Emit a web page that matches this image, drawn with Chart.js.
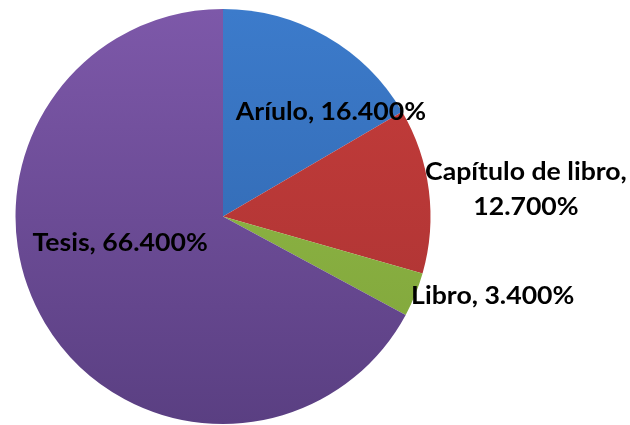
<!DOCTYPE html>
<html>
<head>
<meta charset="utf-8">
<script src="https://cdn.jsdelivr.net/npm/chart.js@4"></script>
<style>
html,body{margin:0;padding:0;background:#fff;}
#wrap{width:630px;height:425px;position:relative;}
</style>
</head>
<body>
<div id="wrap"><canvas id="c" width="630" height="425"></canvas></div>
<script>
const categories = ["Aríulo", "Capítulo de libro", "Libro", "Tesis"];
const values = [16.4, 12.7, 3.4, 66.4];
const labelTexts = [["Aríulo, 16.400%"], ["Capítulo de libro,", "12.700%"], ["Libro, 3.400%"], ["Tesis, 66.400%"]];

const topColors = ["#3c7bcb", "#c63d3b", "#94bd48", "#7d58a9"];
const bottomColors = ["#2e62a8", "#a83232", "#7ea33a", "#5a3f82"];
// label anchors relative to pie centre, in units of radius
const labelAnchors = [[0.52, -0.50], [1.46, -0.128], [1.30, 0.383], [-0.496, 0.128]];

function grad(ctx, i) {
  const chart = ctx.chart;
  const a = chart.chartArea;
  if (!a) return topColors[i];
  const g = chart.ctx.createLinearGradient(0, a.top, 0, a.bottom);
  g.addColorStop(0, topColors[i]);
  g.addColorStop(1, bottomColors[i]);
  return g;
}

const labelPlugin = {
  id: 'pieLabels',
  afterDatasetsDraw(chart) {
    const meta = chart.getDatasetMeta(0);
    const arc = meta.data[0];
    if (!arc) return;
    const cx = arc.x, cy = arc.y, r = arc.outerRadius;
    const ctx = chart.ctx;
    const sx = 1.11;
    ctx.save();
    ctx.font = 'bold 24px Lato';
    ctx.fillStyle = '#000';
    ctx.textAlign = 'center';
    ctx.textBaseline = 'middle';
    const lh = 35;
    labelTexts.forEach((lines, i) => {
      const x = cx + labelAnchors[i][0] * r;
      const y0 = cy + labelAnchors[i][1] * r - (lines.length - 1) * lh / 2;
      lines.forEach((t, j) => {
        ctx.save();
        ctx.translate(x, y0 + j * lh);
        ctx.scale(sx, 1);
        ctx.fillText(t, 0, 0);
        ctx.restore();
      });
    });
    ctx.restore();
  }
};

new Chart(document.getElementById('c'), {
  type: 'pie',
  data: {
    labels: categories,
    datasets: [{
      data: values,
      backgroundColor: (ctx) => grad(ctx, ctx.dataIndex),
      borderWidth: 0
    }]
  },
  options: {
    responsive: false,
    animation: false,
    layout: { padding: { left: 14, right: 198, top: 9, bottom: 1 } },
    plugins: { legend: { display: false }, tooltip: { enabled: false } }
  },
  plugins: [labelPlugin]
});
</script>
</body>
</html>
